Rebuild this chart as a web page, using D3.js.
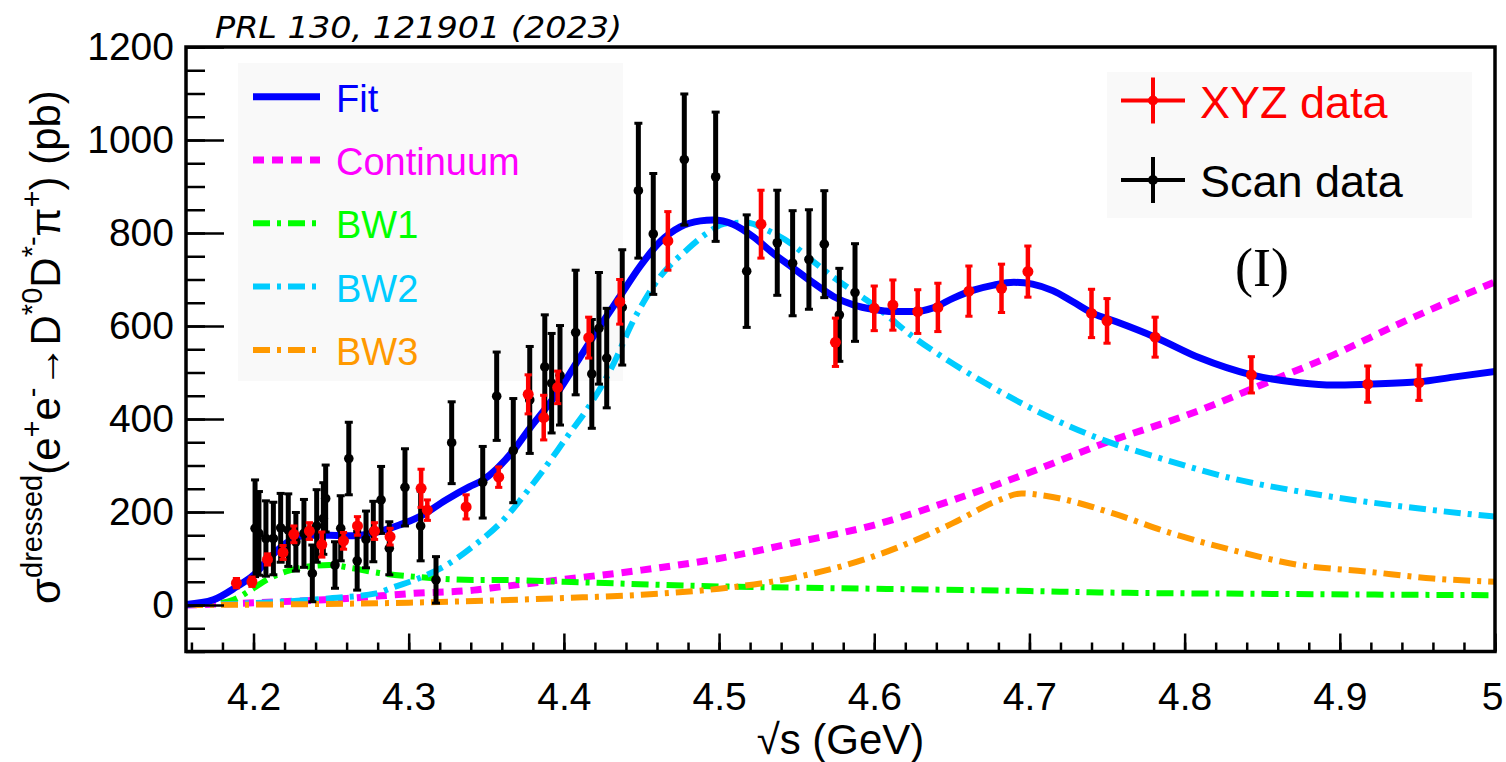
<!DOCTYPE html>
<html><head><meta charset="utf-8">
<script src="https://cdn.jsdelivr.net/npm/d3@7"></script>
<style>
body{margin:0;background:#fff}
svg{display:block}
</style>
</head><body>
<svg id="chart" width="1506" height="762" font-family="Liberation Sans, Arial, sans-serif"></svg>
<script>
// ---- measured cross sections (pb) ----
const xyzE   = [4.189,4.199,4.209,4.219,4.226,4.236,4.244,4.258,4.267,4.278,4.288,4.308,4.312,4.337,4.358,4.377,4.387,4.396,4.416,4.436,4.467,4.527,4.575,4.600,4.612,4.628,4.641,4.661,4.682,4.699,4.740,4.750,4.781,4.843,4.918,4.951];
const xyzV   = [47,50,98,113,152,159,130,138,170,159,147,251,204,211,275,453,403,468,575,652,783,819,565,638,645,631,640,675,681,717,627,611,576,495,475,478];
const xyzErr = [10,10,12,15,18,18,27,18,20,18,18,41,22,26,22,42,48,35,44,48,63,73,52,48,54,47,52,54,52,55,52,48,43,39,39,38];

const scanE   = [4.201,4.2035,4.208,4.2128,4.2175,4.2224,4.2273,4.2325,4.2379,4.2407,4.245,4.2465,4.2525,4.2562,4.2614,4.2668,4.2725,4.2772,4.2822,4.2875,4.2976,4.3077,4.3176,4.3277,4.3477,4.3567,4.3674,4.378,4.3877,4.3921,4.3975,4.4076,4.418,4.4226,4.4276,4.4376,4.448,4.4576,4.4776,4.4978,4.5178,4.5375,4.5474,4.5579,4.5678,4.5775,4.5876];
const scanV   = [165,154,143,143,166,161,136,154,68,170,186,229,86,165,315,95,141,158,226,122,253,170,54,349,264,449,332,441,512,477,494,586,497,595,531,640,891,798,958,921,718,779,735,743,776,624,672];
const scanErr = [104,90,81,78,74,78,63,73,61,78,77,72,50,70,78,63,61,65,72,57,83,75,50,88,77,95,112,115,112,107,107,134,117,120,107,124,145,130,141,139,121,113,113,107,115,100,105];

// ---- fit result and its components, sampled along sqrt(s) ----
const fitE = [4.1565,4.174,4.189,4.200,4.210,4.221,4.234,4.249,4.264,4.281,4.294,4.307,4.324,4.339,4.348,4.367,4.378,4.389,4.397,4.408,4.423,4.436,4.449,4.462,4.475,4.488,4.496,4.509,4.522,4.535,4.548,4.561,4.574,4.587,4.599,4.612,4.625,4.638,4.651,4.664,4.677,4.690,4.702,4.715,4.728,4.741,4.756,4.781,4.810,4.843,4.874,4.896,4.918,4.951,4.973,5.0];
const fitV = [1,11,39,64,100,133,150,150,149,158,172,190,226,254,269,330,380,426,462,520,598,663,728,781,813,826,828,819,792,756,724,692,663,645,636,631,631,639,660,677,688,694,690,676,652,627,609,576,531,495,478,473,475,480,490,502];

const contE = [4.1565,4.217,4.260,4.303,4.342,4.359,4.400,4.450,4.500,4.550,4.600,4.650,4.700,4.745,4.810,4.852,4.896,4.939,4.993,5.0];
const contV = [0,7,14,25,32,39,55,75,100,135,172,225,285,344,419,477,538,606,685,695];

const bw1E = [4.1565,4.175,4.187,4.200,4.210,4.221,4.234,4.249,4.264,4.281,4.303,4.342,4.359,4.400,4.500,4.600,4.700,4.745,4.850,5.0];
const bw1V = [0,3,11,36,57,72,82,86,79,69,61,54,54,50,40,35,30,27,24,21];

const bw2E = [4.1565,4.206,4.251,4.279,4.290,4.307,4.324,4.341,4.359,4.382,4.403,4.416,4.431,4.445,4.462,4.479,4.492,4.505,4.518,4.531,4.546,4.561,4.576,4.595,4.604,4.625,4.647,4.668,4.700,4.745,4.788,4.831,4.874,4.917,4.960,5.0];
const bw2V = [0,5,15,25,38,58,85,125,176,269,366,426,512,613,706,763,799,821,822,806,778,738,699,656,634,577,527,484,425,358,312,272,244,222,204,190];

const bw3E = [4.1565,4.300,4.400,4.450,4.500,4.550,4.600,4.650,4.680,4.695,4.710,4.754,4.788,4.831,4.874,4.917,4.960,5.0];
const bw3V = [0,5,15,22,35,60,105,175,225,240,235,197,158,118,86,72,57,50];

// ---- axis ticks ----
const xMajor = [4.2,4.3,4.4,4.5,4.6,4.7,4.8,4.9,5.0];
const xTickLabels = ["4.2","4.3","4.4","4.5","4.6","4.7","4.8","4.9","5"];
const yMajor = [0,200,400,600,800,1000,1200];
const yTickLabels = ["0","200","400","600","800","1000","1200"];

const svg = d3.select("#chart");
const L = 186, R = 1495, T = 47, B = 651.5;
const x = d3.scaleLinear().domain([4.1565, 5.0]).range([L, R]);
const y = d3.scaleLinear().domain([-100, 1200]).range([B, T]);

svg.append("defs").append("clipPath").attr("id","plotclip")
  .append("rect").attr("x",L).attr("y",T).attr("width",R-L).attr("height",B-T);

// legend backgrounds
svg.append("rect").attr("x",238).attr("y",63).attr("width",385).attr("height",318).attr("fill","#f9f9f9");
svg.append("rect").attr("x",1107).attr("y",72).attr("width",365).attr("height",146).attr("fill","#f9f9f9");

// component curves
const curves = [
  {E:contE, V:contV, color:"#ff00ff", w:7, dash:"11,8",       name:"Continuum"},
  {E:bw1E,  V:bw1V,  color:"#00ff00", w:6, dash:"17,7,4,7",   name:"BW1"},
  {E:bw2E,  V:bw2V,  color:"#00ccff", w:6, dash:"17,7,4,7",   name:"BW2"},
  {E:bw3E,  V:bw3V,  color:"#ff9900", w:6, dash:"17,7,4,7",   name:"BW3"}
];
const line = d3.line().x(d => x(d[0])).y(d => y(d[1])).curve(d3.curveMonotoneX);
const gCurves = svg.append("g").attr("clip-path","url(#plotclip)");
curves.forEach(c => {
  gCurves.append("path").datum(d3.zip(c.E, c.V))
    .attr("d", line).attr("fill","none").attr("stroke",c.color)
    .attr("stroke-width",c.w).attr("stroke-dasharray",c.dash);
});
gCurves.append("path").datum(d3.zip(fitE, fitV))
  .attr("d", line).attr("fill","none").attr("stroke","#0000ff").attr("stroke-width",7);

// data points with error bars
function drawPoints(E, V, Err, color, bw, r) {
  const g = svg.append("g");
  const pts = d3.zip(E, V, Err);
  g.selectAll("line.bar").data(pts).join("line")
    .attr("x1", d => x(d[0])).attr("x2", d => x(d[0]))
    .attr("y1", d => y(d[1] + d[2])).attr("y2", d => y(d[1] - d[2]))
    .attr("stroke", color).attr("stroke-width", bw);
  ["top","bot"].forEach(k => {
    g.selectAll("line.cap"+k).data(pts).join("line")
      .attr("x1", d => x(d[0]) - bw*0.8).attr("x2", d => x(d[0]) + bw*0.8)
      .attr("y1", d => y(k==="top" ? d[1]+d[2] : d[1]-d[2]))
      .attr("y2", d => y(k==="top" ? d[1]+d[2] : d[1]-d[2]))
      .attr("stroke", color).attr("stroke-width", 3);
  });
  g.selectAll("circle").data(pts).join("circle")
    .attr("cx", d => x(d[0])).attr("cy", d => y(d[1])).attr("r", r).attr("fill", color);
}
drawPoints(scanE, scanV, scanErr, "#000000", 5, 4.8);
drawPoints(xyzE, xyzV, xyzErr, "#ff0000", 4.5, 5.5);

// axes (ticks drawn inward)
const xMinor = d3.range(4.16, 5.0001, 0.02).map(v => +v.toFixed(2));
const yMinor = d3.range(-100, 1200.1, 50);
const gx = svg.append("g").attr("transform",`translate(0,${B})`);
gx.call(d3.axisBottom(x).tickValues(xMinor).tickSize(-9).tickFormat(""));
gx.selectAll(".tick line").attr("stroke","#000").attr("stroke-width",2.5);
const gx2 = svg.append("g").attr("transform",`translate(0,${B})`);
gx2.call(d3.axisBottom(x).tickValues(xMajor).tickSize(-18).tickPadding(31)
  .tickFormat((d,i) => xTickLabels[i]));
gx2.selectAll(".tick line").attr("stroke","#000").attr("stroke-width",2.5);
gx2.selectAll(".tick text").attr("font-size",39).attr("fill","#000")
  .attr("font-family","Liberation Sans, Arial, sans-serif");
gx2.selectAll(".tick").filter((d,i) => i === xMajor.length-1).select("text")
  .attr("text-anchor","end").attr("dx",8);
svg.selectAll(".domain").remove();

const gy = svg.append("g").attr("transform",`translate(${L},0)`);
gy.call(d3.axisLeft(y).tickValues(yMinor).tickSize(-19).tickFormat(""));
gy.selectAll(".tick line").attr("stroke","#000").attr("stroke-width",2.5);
const gy2 = svg.append("g").attr("transform",`translate(${L},0)`);
gy2.call(d3.axisLeft(y).tickValues(yMajor).tickSize(-38).tickPadding(12)
  .tickFormat((d,i) => yTickLabels[i]));
gy2.selectAll(".tick line").attr("stroke","#000").attr("stroke-width",2.5);
gy2.selectAll(".tick text").attr("font-size",39).attr("fill","#000")
  .attr("font-family","Liberation Sans, Arial, sans-serif");
svg.selectAll(".domain").remove();

// frame
svg.append("rect").attr("x",L).attr("y",T).attr("width",R-L).attr("height",B-T)
  .attr("fill","none").attr("stroke","#000").attr("stroke-width",3.5);

// axis titles
svg.append("text").attr("x",(L+R)/2).attr("y",754).attr("text-anchor","middle")
  .attr("font-size",42).text("\u221As (GeV)");

const yt = svg.append("text").attr("transform","translate(60,347) rotate(-90)")
  .attr("text-anchor","middle").attr("font-size",42);
const parts = [["\u03C3",0],["dressed",1],["(e",0],["+",1],["e",0],["-",1],["\u2192D",0],["*0",1],["D",0],["*-",1],["\u03C0",0],["+",1],[") (pb)",0]];
let up = false;
parts.forEach(([t,s]) => {
  const ts = yt.append("tspan").text(t);
  if (s && !up) { ts.attr("dy",-18).attr("font-size",29); up = true; }
  else if (s && up) { ts.attr("font-size",29); }
  else if (!s && up) { ts.attr("dy",18); up = false; }
});

// header
svg.append("text").attr("x",215).attr("y",38).attr("font-size",30)
  .attr("font-style","italic").attr("font-family","DejaVu Sans, sans-serif")
  .attr("textLength",407).attr("lengthAdjust","spacingAndGlyphs")
  .text("PRL 130, 121901 (2023)");

// panel label
svg.append("text").attr("x",1262).attr("y",286).attr("text-anchor","middle")
  .attr("font-family","Liberation Serif, Times New Roman, serif").attr("font-size",54)
  .text("(I)");

// left legend: fit and components
const legL = [{name:"Fit", color:"#0000ff", w:7, dash:null}].concat(curves);
legL.forEach((c,i) => {
  const cy = 96.7 + i*63.3;
  svg.append("line").attr("x1",253).attr("x2",320).attr("y1",cy).attr("y2",cy)
    .attr("stroke",c.color).attr("stroke-width",c.w)
    .attr("stroke-dasharray",c.dash);
  svg.append("text").attr("x",336).attr("y",cy+15).attr("font-size",38)
    .attr("fill",c.color).text(c.name);
});

// right legend: data sets
[{name:"XYZ data", color:"#ff0000", cy:100.5},{name:"Scan data", color:"#000000", cy:180}].forEach(d => {
  svg.append("line").attr("x1",1121).attr("x2",1185).attr("y1",d.cy).attr("y2",d.cy)
    .attr("stroke",d.color).attr("stroke-width",4);
  svg.append("line").attr("x1",1153).attr("x2",1153).attr("y1",d.cy-23).attr("y2",d.cy+23)
    .attr("stroke",d.color).attr("stroke-width",4);
  svg.append("circle").attr("cx",1153).attr("cy",d.cy).attr("r",5).attr("fill",d.color);
  svg.append("text").attr("x",1200).attr("y",d.cy+17).attr("font-size",45)
    .attr("fill",d.color).text(d.name);
});
</script>
</body></html>
